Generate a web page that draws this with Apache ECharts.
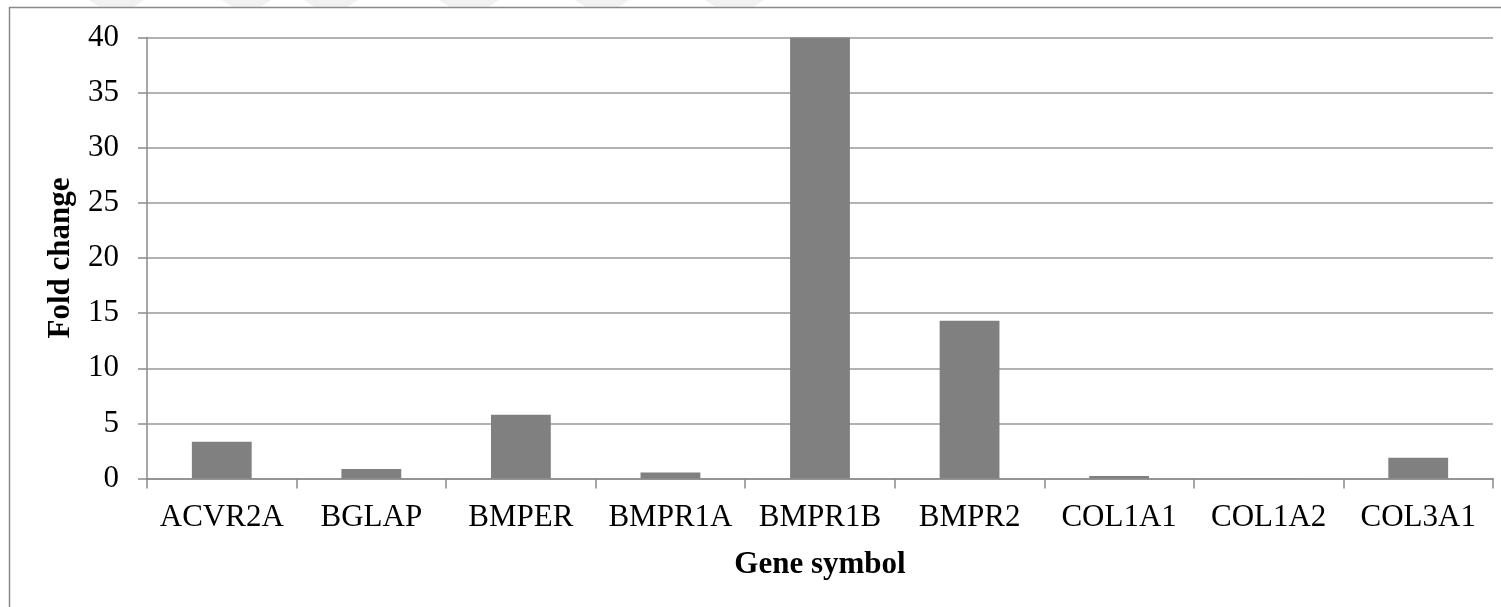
<!DOCTYPE html>
<html><head><meta charset="utf-8">
<script src="https://cdn.jsdelivr.net/npm/echarts@6/dist/echarts.min.js"></script>
<style>html,body{margin:0;padding:0;background:#fff;overflow:hidden}#c{width:1501px;height:607px}</style>
</head><body><div id="c"></div>
<script>
const categories = ['ACVR2A','BGLAP','BMPER','BMPR1A','BMPR1B','BMPR2','COL1A1','COL1A2','COL3A1'];
const foldChange = [3.33, 0.86, 5.78, 0.54, 40, 14.3, 0.22, 0.02, 1.89];
const yMin = 0, yMax = 40, yStep = 5;
const xTitle = 'Gene symbol';
const yTitle = 'Fold change';

const FONT = "'Liberation Serif', 'Times New Roman', serif";
const watermarkBands = [[89,144],[222,271],[304,358],[439,499],[575,629],[705,764]];

const chart = echarts.init(document.getElementById('c'), null, {renderer:'canvas'});
const graphics = watermarkBands.map(b => ({
  type:'polygon', silent:true, z:-10,
  shape:{points:[[b[0],0],[b[1],0],[b[1]-12,8],[b[0]+12,8]]},
  style:{fill:'#f1f1f1'}
}));
graphics.push({
  type:'rect', silent:true, z:-5,
  shape:{x:9.5, y:7.5, width:1600, height:700},
  style:{fill:null, stroke:'#8a8a8a', lineWidth:1.5}
});
chart.setOption({
  animation:false,
  backgroundColor:'#ffffff',
  graphic: graphics,
  grid:{left:147, right:8, top:37.5, bottom:128.5},
  xAxis:{
    type:'category', data:categories,
    name:xTitle, nameLocation:'middle', nameGap:71,
    nameTextStyle:{fontFamily:FONT, fontSize:31, fontWeight:'bold', color:'#000'},
    axisLine:{show:true, lineStyle:{color:'#8a8a8a', width:1.5}},
    axisTick:{show:true, alignWithLabel:false, length:10, lineStyle:{color:'#8a8a8a', width:1.5}},
    axisLabel:{interval:0, margin:24, fontFamily:FONT, fontSize:31, color:'#000'}
  },
  yAxis:{
    type:'value', min:yMin, max:yMax, interval:yStep,
    name:yTitle, nameLocation:'middle', nameRotate:90, nameGap:71,
    nameTextStyle:{fontFamily:FONT, fontSize:31, fontWeight:'bold', color:'#000'},
    axisLine:{show:true, lineStyle:{color:'#8a8a8a', width:1.5}},
    axisTick:{show:true, length:9, lineStyle:{color:'#8a8a8a', width:1.5}},
    axisLabel:{margin:28, fontFamily:FONT, fontSize:31, color:'#000'},
    splitLine:{show:true, lineStyle:{color:'#989898', width:1.5}}
  },
  series:[{
    type:'bar', data:foldChange, barWidth:'40%',
    itemStyle:{color:'#808080'}
  }]
});
</script></body></html>
